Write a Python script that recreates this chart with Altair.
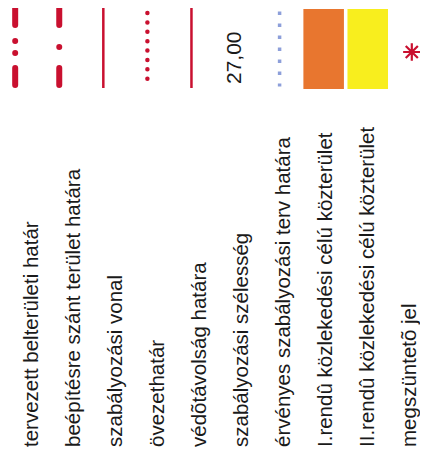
import altair as alt
import pandas as pd

# ---- data ----
labels = [
    "tervezett belterületi határ",
    "beépítésre szánt terület határa",
    "szabályozási vonal",
    "övezethatár",
    "védõtávolság határa",
    "szabályozási szélesség",
    "érvényes szabályozási terv határa",
    "I.rendû közlekedési célú közterület",
    "II.rendû közlekedési célú közterület",
    "megszüntetõ jel",
]
symbol_kinds = ["dash2dot", "dashdot", "solid", "dotted", "solid",
                "value", "bluedots", "fill", "fill", "asterisk"]
fill_colors = ["#e8762f", "#f8ee1e"]
width_value = "27,00"

# ---- styles / layout ----
RED = "#c9102f"
BLUE = "#8d9fda"
TEXT = "#1a1a1a"
FONT = "Liberation Sans"
W, H = 412, 446

idx = list(range(len(labels)))
sym_x = alt.Scale(domain=[-0.163, 9.186], range=[0, W])
txt_x = alt.Scale(domain=[-0.710, 9.107], range=[0, W])
ys = alt.Scale(domain=[8, 8 + H], range=[0, H])

def X(scale, field="i"):
    return alt.X(f"{field}:Q", scale=scale, axis=None)

def Y(field):
    return alt.Y(f"{field}:Q", scale=ys, axis=None)

def rows(kind, **extra):
    out = []
    for i, k in enumerate(symbol_kinds):
        if k == kind:
            r = {"i": i, "label": labels[i]}
            r.update(extra)
            out.append(r)
    return pd.DataFrame(out)

base_line = dict(y1=8, y2=85)

l_dash2dot = alt.Chart(rows("dash2dot", **base_line)).mark_rule(
    color=RED, strokeWidth=6, strokeCap="round",
    strokeDash=[17, 16, 0.001, 12, 0.001, 15, 17, 200],
).encode(x=X(sym_x), y=Y("y1"), y2="y2:Q")

l_dashdot = alt.Chart(rows("dashdot", **base_line)).mark_rule(
    color=RED, strokeWidth=6, strokeCap="round",
    strokeDash=[17, 22, 0.001, 21, 17, 200],
).encode(x=X(sym_x), y=Y("y1"), y2="y2:Q")

l_solid = alt.Chart(rows("solid", y1=7, y2=88)).mark_rule(
    color=RED, strokeWidth=2.5,
).encode(x=X(sym_x), y=Y("y1"), y2="y2:Q")

l_dotted = alt.Chart(rows("dotted", y1=13, y2=88)).mark_rule(
    color=RED, strokeWidth=4.5, strokeCap="round",
    strokeDash=[0.001, 9.375],
).encode(x=X(sym_x), y=Y("y1"), y2="y2:Q")

l_blue = alt.Chart(rows("bluedots", y1=11.5, y2=86.5)).mark_rule(
    color=BLUE, strokeWidth=3.5, strokeDash=[3.5, 8.5],
).encode(x=X(sym_x), y=Y("y1"), y2="y2:Q")

fill_df = rows("fill", y1=9, y2=89)
fill_df["color"] = fill_colors
l_fill = alt.Chart(fill_df).transform_calculate(
    xa="datum.i - 0.46", xb="datum.i + 0.46"
).mark_rect().encode(
    x=X(sym_x, "xa"), x2="xb:Q", y=Y("y1"), y2="y2:Q",
    color=alt.Color("color:N", scale=None, legend=None),
)

l_star = alt.Chart(rows("asterisk", y=52)).mark_point(
    shape="M0,-1L0,1M-1,0L1,0M-0.7,-0.7L0.7,0.7M-0.7,0.7L0.7,-0.7",
    filled=False, color=RED, strokeWidth=2.2, size=300, opacity=1,
).encode(x=X(sym_x), y=Y("y"))

l_value = alt.Chart(rows("value", y=84, t=width_value)).mark_text(
    angle=270, align="left", baseline="alphabetic", dy=5.5,
    font=FONT, fontSize=21, color=TEXT,
).encode(x=X(sym_x), y=Y("y"), text="t:N")

lab_df = pd.DataFrame({"i": idx, "label": labels, "y": [447] * len(labels)})
l_labels = alt.Chart(lab_df).mark_text(
    angle=270, align="left", baseline="alphabetic",
    font=FONT, fontSize=20.5, color=TEXT,
).encode(x=X(txt_x), y=Y("y"), text="label:N")

chart = alt.layer(
    l_fill, l_dash2dot, l_dashdot, l_solid, l_dotted, l_blue, l_star, l_value, l_labels
).resolve_scale(x="independent").properties(
    width=W, height=H, padding=0, autosize=alt.AutoSizeParams(type="none"),
    background="white",
).configure_view(stroke=None)

chart.save("out.html", embed_options={"renderer": "svg", "actions": False})
